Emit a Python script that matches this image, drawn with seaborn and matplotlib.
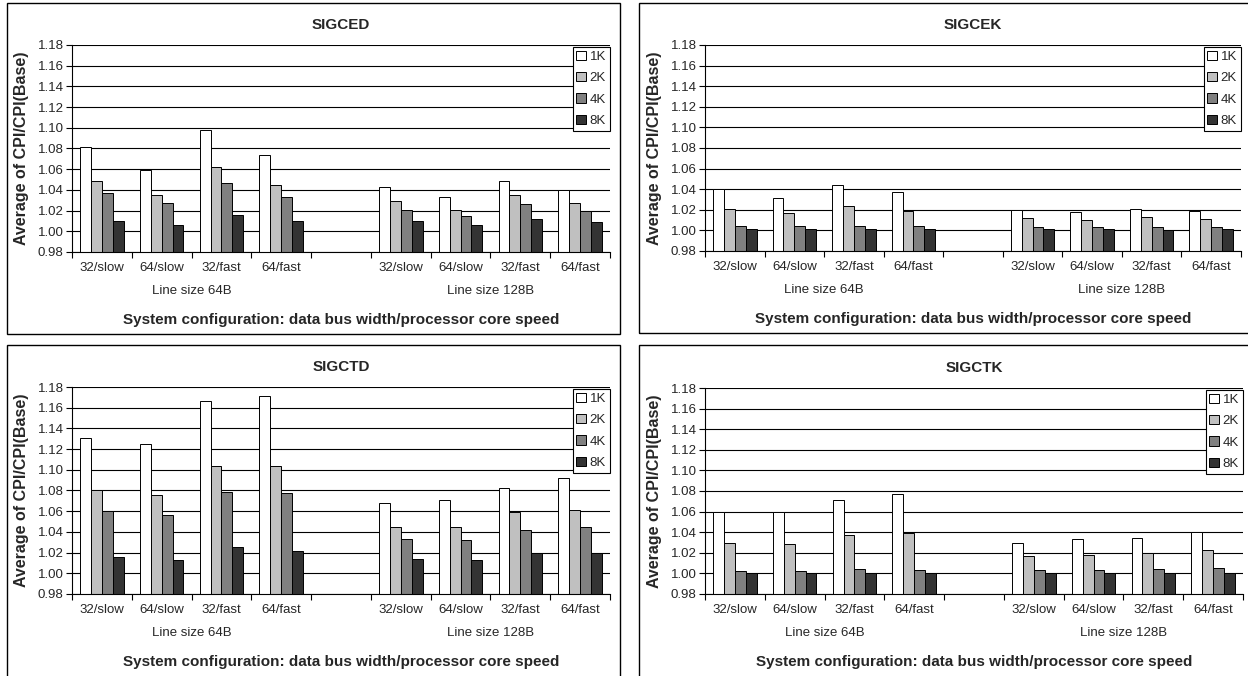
import numpy as np
import pandas as pd
import matplotlib
matplotlib.use("Agg")
import matplotlib.pyplot as plt
from matplotlib.patches import Rectangle
import seaborn as sns

configs = ["32/slow", "64/slow", "32/fast", "64/fast"]
line_sizes = ["64B", "128B"]
cache_sizes = ["1K", "2K", "4K", "8K"]
cache_colors = ["#ffffff", "#c0c0c0", "#808080", "#333333"]
y_ticks = [0.98, 1.00, 1.02, 1.04, 1.06, 1.08, 1.10, 1.12, 1.14, 1.16, 1.18]

# values per cache size: 64B (32/slow, 64/slow, 32/fast, 64/fast), then 128B
sigced_1k = [1.081, 1.059, 1.098, 1.074, 1.043, 1.033, 1.049, 1.040]
sigced_2k = [1.049, 1.035, 1.062, 1.045, 1.029, 1.021, 1.035, 1.027]
sigced_4k = [1.037, 1.027, 1.047, 1.033, 1.021, 1.015, 1.026, 1.020]
sigced_8k = [1.010, 1.006, 1.016, 1.010, 1.010, 1.006, 1.012, 1.009]

sigcek_1k = [1.040, 1.031, 1.044, 1.037, 1.020, 1.018, 1.021, 1.019]
sigcek_2k = [1.021, 1.017, 1.024, 1.019, 1.012, 1.010, 1.013, 1.011]
sigcek_4k = [1.004, 1.004, 1.004, 1.004, 1.003, 1.003, 1.003, 1.003]
sigcek_8k = [1.001, 1.001, 1.001, 1.001, 1.001, 1.001, 1.000, 1.001]

sigctd_1k = [1.131, 1.125, 1.166, 1.171, 1.068, 1.071, 1.082, 1.092]
sigctd_2k = [1.080, 1.076, 1.104, 1.104, 1.045, 1.045, 1.059, 1.061]
sigctd_4k = [1.060, 1.056, 1.079, 1.078, 1.033, 1.032, 1.042, 1.045]
sigctd_8k = [1.016, 1.013, 1.025, 1.022, 1.014, 1.013, 1.020, 1.020]

sigctk_1k = [1.060, 1.060, 1.071, 1.077, 1.030, 1.033, 1.034, 1.040]
sigctk_2k = [1.030, 1.029, 1.037, 1.039, 1.017, 1.018, 1.020, 1.023]
sigctk_4k = [1.002, 1.002, 1.004, 1.003, 1.003, 1.003, 1.004, 1.005]
sigctk_8k = [1.000, 1.000, 1.000, 1.000, 1.000, 1.000, 1.000, 1.000]

panels = [
    ("SIGCED", [sigced_1k, sigced_2k, sigced_4k, sigced_8k]),
    ("SIGCEK", [sigcek_1k, sigcek_2k, sigcek_4k, sigcek_8k]),
    ("SIGCTD", [sigctd_1k, sigctd_2k, sigctd_4k, sigctd_8k]),
    ("SIGCTK", [sigctk_1k, sigctk_2k, sigctk_4k, sigctk_8k]),
]

W, H = 1248, 676
# pixel boxes (left, top, right, bottom)
axes_px = [(72, 45, 610, 252), (705, 45, 1241, 251),
           (72, 387, 610, 594), (705, 388, 1243, 594)]
border_px = [(7, 3, 620, 334), (639, 3, 1260, 333),
             (7, 345, 620, 690), (639, 345, 1260, 690)]

PT = 0.72  # points per pixel at dpi 100
SMALL = 9.5

sns.set_style("white")
plt.rcParams["font.family"] = ["Liberation Sans", "DejaVu Sans"]

fig = plt.figure(figsize=(W / 100, H / 100), dpi=100)

keys = [f"{ls} {c}" for ls in line_sizes for c in configs]
order = keys[:4] + ["gap"] + keys[4:]
tick_labels = configs + [""] + configs

for (name, series), (l, t, r, b), (bl, bt, br, bb) in zip(panels, axes_px, border_px):
    fig.add_artist(Rectangle((bl / W, 1 - bb / H), (br - bl) / W, (bb - bt) / H,
                             transform=fig.transFigure, fill=False,
                             edgecolor="black", linewidth=1.0))
    ax = fig.add_axes([l / W, 1 - b / H, (r - l) / W, (b - t) / H])

    rows = []
    for size, vals in zip(cache_sizes, series):
        for k, v in zip(keys, vals):
            rows.append({"config": k, "cache": size, "ratio": v})
    df = pd.DataFrame(rows)

    sns.barplot(data=df, x="config", y="ratio", hue="cache", order=order,
                hue_order=cache_sizes, palette=cache_colors, errorbar=None,
                width=0.73, edgecolor="black", linewidth=0.7, saturation=1,
                ax=ax)

    ax.set_xlim(-0.5, 8.5)
    ax.set_ylim(0.98, 1.18)
    ax.set_yticks(y_ticks)
    ax.set_yticklabels([f"{v:.2f}" for v in y_ticks])
    ax.set_xticks(range(9))
    ax.set_xticklabels(tick_labels)
    ax.set_xticks(np.arange(-0.5, 9, 1), minor=True)
    ax.tick_params(axis="x", which="major", length=0, pad=7, labelsize=SMALL)
    ax.tick_params(axis="x", which="minor", length=4, width=0.8,
                   direction="out", color="black", bottom=True)
    ax.tick_params(axis="y", length=4, width=0.8, direction="out",
                   color="black", labelsize=SMALL, left=True, pad=2)
    ax.set_xlabel("")
    ax.set_ylabel("")
    ax.set_axisbelow(True)
    ax.yaxis.grid(True, color="black", linewidth=0.8)
    ax.xaxis.grid(False)
    for side in ["top", "right"]:
        ax.spines[side].set_visible(False)
    for side in ["left", "bottom"]:
        ax.spines[side].set_color("black")
        ax.spines[side].set_linewidth(0.8)

    xt = ax.get_xaxis_transform()
    ax.annotate("Line size 64B", xy=(1.5, 0), xycoords=xt,
                xytext=(0, -39 * PT), textcoords="offset points",
                ha="center", va="center", fontsize=SMALL)
    ax.annotate("Line size 128B", xy=(6.5, 0), xycoords=xt,
                xytext=(0, -39 * PT), textcoords="offset points",
                ha="center", va="center", fontsize=SMALL)
    ax.annotate("System configuration: data bus width/processor core speed",
                xy=(0.5, 0), xycoords="axes fraction",
                xytext=(0, -68 * PT), textcoords="offset points",
                ha="center", va="center", fontsize=11, fontweight="bold")
    ax.annotate(name, xy=(0.5, 1), xycoords="axes fraction",
                xytext=(0, 20 * PT), textcoords="offset points",
                ha="center", va="center", fontsize=11, fontweight="bold")
    ax.annotate("Average of CPI/CPI(Base)", xy=(0, 0.5), xycoords="axes fraction",
                xytext=(-50 * PT, 0), textcoords="offset points",
                ha="center", va="center", rotation=90,
                fontsize=11.5, fontweight="bold")

    leg = ax.legend(loc="upper right", bbox_to_anchor=(1.0, 0.99),
                    borderaxespad=0, frameon=True, fancybox=False,
                    fontsize=SMALL, handlelength=0.7, handleheight=0.7,
                    handletextpad=0.3, labelspacing=0.68, borderpad=0.3,
                    title=None)
    leg.get_frame().set_edgecolor("black")
    leg.get_frame().set_linewidth(0.8)
    leg.get_frame().set_alpha(1)

fig.savefig("out.png", dpi=100)
